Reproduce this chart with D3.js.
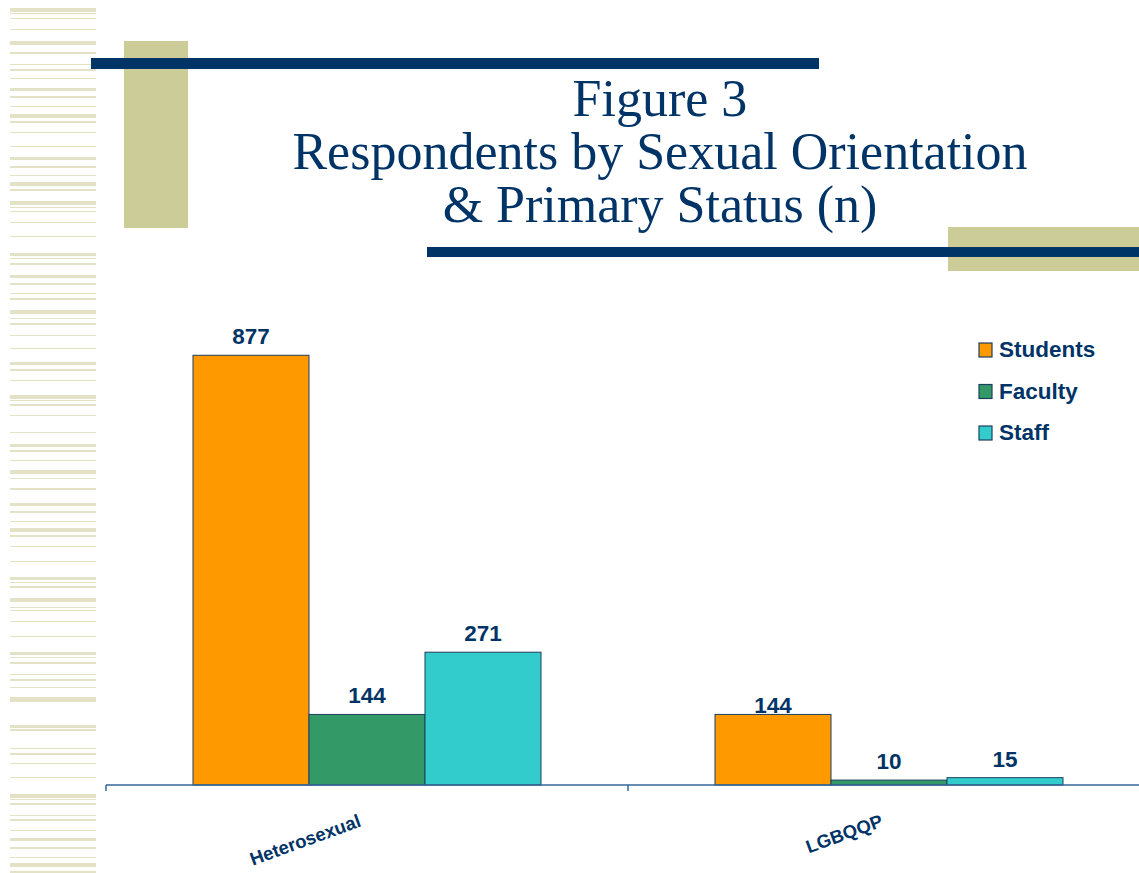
<!DOCTYPE html>
<html><head><meta charset="utf-8">
<script src="https://cdn.jsdelivr.net/npm/d3@7"></script>
<style>html,body{margin:0;padding:0;background:#fff;}</style>
</head><body>
<svg id="c" width="1139" height="873"></svg>
<script>
const categories = ["Heterosexual", "LGBQQP"];
const seriesNames = ["Students", "Faculty", "Staff"];
const students = [877, 144];
const faculty = [144, 10];
const staff = [271, 15];
const seriesColors = ["#FF9900", "#339966", "#33CCCC"];
const titleLines = ["Figure 3", "Respondents by Sexual Orientation", "& Primary Status (n)"];

const values = [students, faculty, staff];
const navy = "#003366";
const svg = d3.select("#c");

// left decorative stripes
const stripes = [[8,4],[13,1],[18,1],[29,1],[41,4],[52,2],[64,1],[69,2],[78,1],[88,3],[96,2],[106,1],[114,4],[121,2],[132,1],[146,1],[157,3],[166,2],[175,1],[182,4],[189,2],[201,4],[207,1],[211,1],[222,1],[236,1],[253,3],[258,1],[263,2],[275,3],[283,2],[293,1],[298,2],
[310,4],[318,1],[323,2],[335,1],[348,1],[362,3],[369,2],[380,1],[395,4],[400,1],[404,2],[415,1],[432,1],[444,3],[450,2],[460,1],[470,4],[478,1],[488,2],[503,3],[511,2],[521,1],[528,4],[535,2],[546,1],[561,1],[577,3],[582,1],[586,2],[598,4],[607,1],[610,1],[621,1],[636,1],[652,3],[657,1],[662,2],[674,1],[679,2],[687,1],[697,4],[701,1],[725,3],[729,2],[748,1],[753,2],[763,1],[777,1],[794,4],[799,1],[803,2],[815,1],[819,2],[830,1],[838,3],[847,2],[857,1],[863,4],[871,2]];
svg.append("g").selectAll("rect").data(stripes).join("rect")
  .attr("x", 10).attr("width", 86).attr("y", d => d[0]).attr("height", d => d[1])
  .attr("fill", "#e3e1c6");

// title decorations
svg.append("rect").attr("x",124).attr("y",41).attr("width",64).attr("height",187).attr("fill","#cccc99");
svg.append("rect").attr("x",948).attr("y",227).attr("width",191).attr("height",44).attr("fill","#cccc99");
svg.append("rect").attr("x",91).attr("y",58).attr("width",728).attr("height",11).attr("fill",navy);
svg.append("rect").attr("x",427).attr("y",247).attr("width",712).attr("height",10).attr("fill",navy);

svg.append("g").selectAll("text").data(titleLines).join("text")
  .attr("x", 660).attr("y", (d,i) => 116 + i*53)
  .attr("text-anchor","middle")
  .attr("font-family","'Liberation Serif', 'Times New Roman', serif")
  .attr("font-size", 52).attr("fill", navy).text(d => d);

// scales
const x0 = d3.scaleBand().domain(categories).range([106, 1150]).paddingInner(0).paddingOuter(0);
const x1 = d3.scaleBand().domain(seriesNames).range([0, x0.bandwidth()]).paddingInner(0).paddingOuter(0.75);
const y = d3.scaleLinear().domain([0, 1000]).range([785, 295]);

// bars
const groups = svg.append("g").selectAll("g").data(categories).join("g")
  .attr("transform", d => `translate(${x0(d)},0)`);
groups.each(function(cat, ci) {
  const g = d3.select(this);
  seriesNames.forEach((s, si) => {
    const v = values[si][ci];
    g.append("rect")
      .attr("x", x1(s)).attr("width", x1.bandwidth())
      .attr("y", y(v)).attr("height", y(0) - y(v))
      .attr("fill", seriesColors[si]).attr("stroke", "#1d3f5e").attr("stroke-width", 1);
    // in the original, the LGBQQP students label sits right on the bar top
    const gap = (ci === 1 && si === 0) ? 1 : 11;
    g.append("text")
      .attr("x", x1(s) + x1.bandwidth()/2).attr("y", y(v) - gap)
      .attr("text-anchor","middle")
      .attr("font-family","'Liberation Sans', Arial, sans-serif").attr("font-weight","bold")
      .attr("font-size", 22.5).attr("fill", navy).text(v);
  });
});

// axis
const axis = svg.append("g").attr("transform", "translate(0,785)")
  .call(d3.axisBottom(x0).tickSize(0).tickFormat(""));
axis.select(".domain").attr("stroke", "#336699").attr("stroke-width", 1.5).attr("d", "M106,0H1139");
axis.selectAll(".tick").remove();
const tickPos = [x0.range()[0], x0(categories[1])];
svg.append("g").selectAll("line").data(tickPos).join("line")
  .attr("x1", d => d).attr("x2", d => d).attr("y1", 785).attr("y2", 791)
  .attr("stroke", "#336699").attr("stroke-width", 1.5);

svg.append("g").selectAll("text").data(categories).join("text")
  .attr("transform", d => `translate(${x0(d) + x0.bandwidth()/2 - 5},826) rotate(-20)`)
  .attr("text-anchor","end")
  .attr("font-family","'Liberation Sans', Arial, sans-serif").attr("font-weight","bold")
  .attr("font-size", 18.5).attr("fill", navy).text(d => d);

// legend
const leg = svg.append("g").selectAll("g").data(seriesNames).join("g")
  .attr("transform", (d,i) => `translate(979,${343 + i*41.5})`);
leg.append("rect").attr("width", 13).attr("height", 14)
  .attr("fill", (d,i) => seriesColors[i]).attr("stroke", "#1d3f5e").attr("stroke-width", 1.2);
leg.append("text").attr("x", 20).attr("y", 14)
  .attr("font-family","'Liberation Sans', Arial, sans-serif").attr("font-weight","bold")
  .attr("font-size", 22.5).attr("fill", navy).text(d => d);
</script>
</body></html>
